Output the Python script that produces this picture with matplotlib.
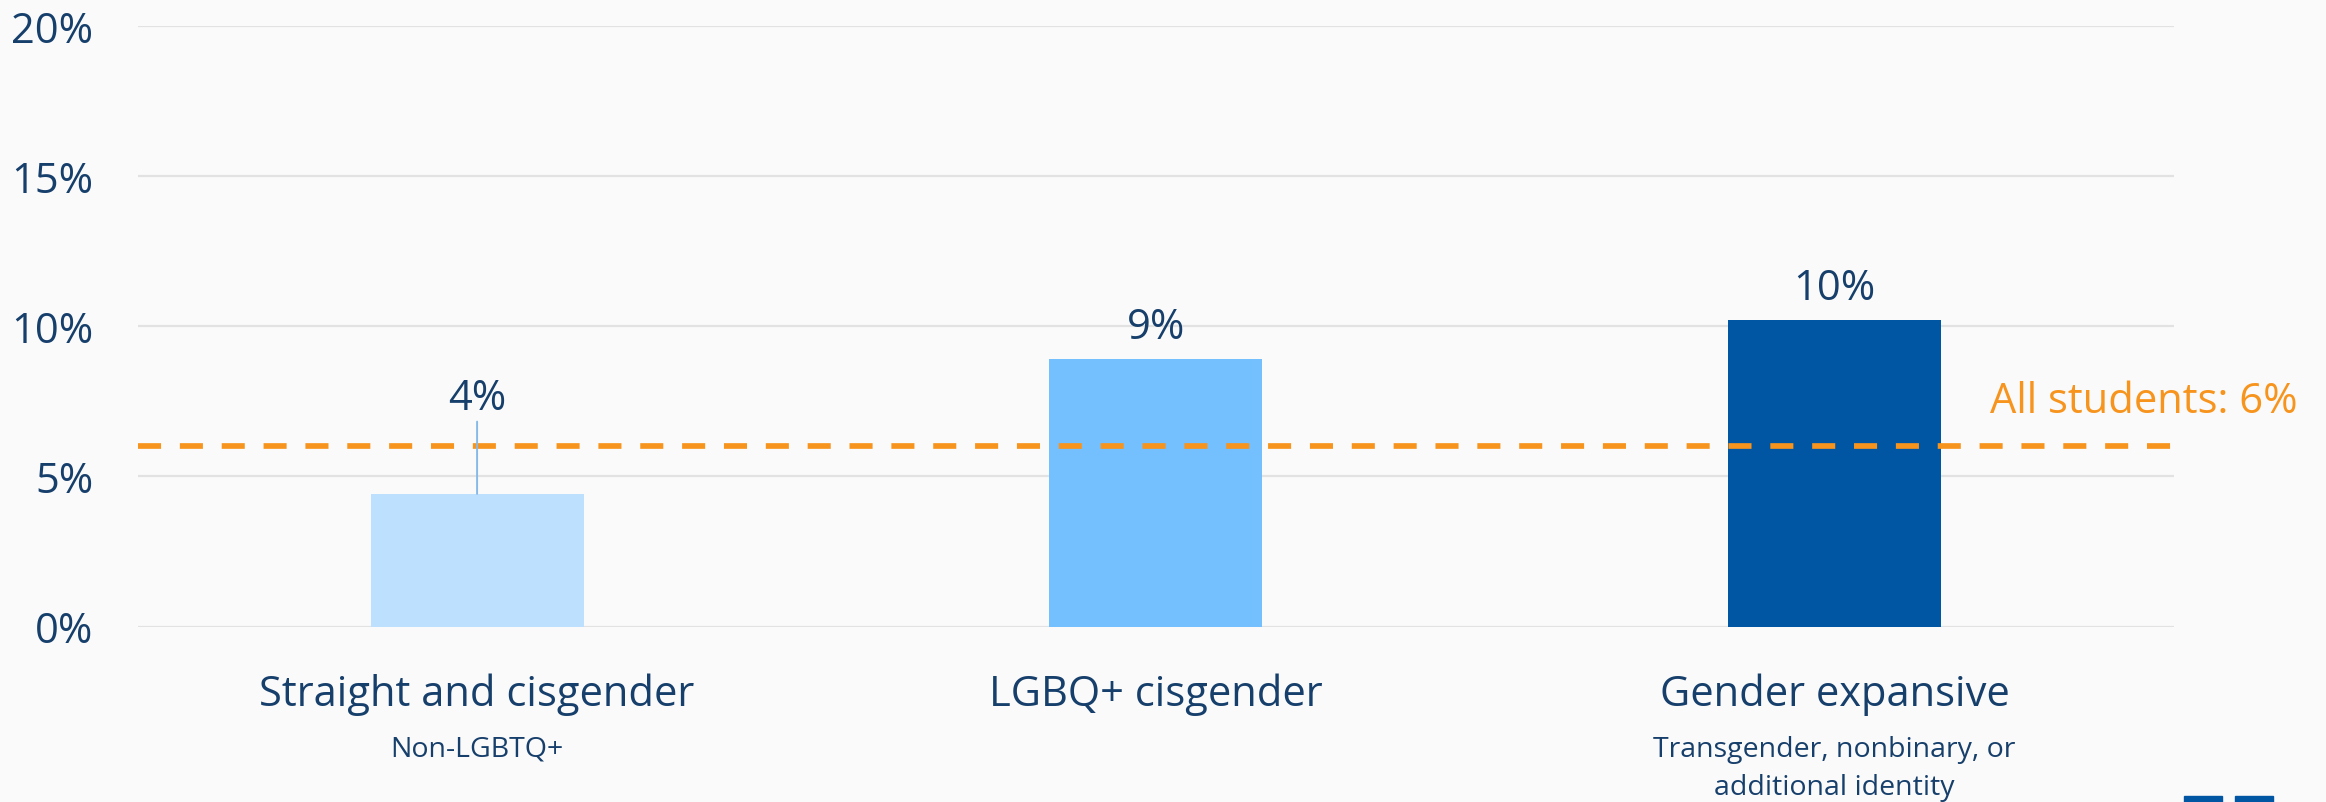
import matplotlib
matplotlib.use("Agg")
import matplotlib.pyplot as plt
from matplotlib.patches import Rectangle
from matplotlib.ticker import FuncFormatter

# ---- data ----
categories = ["Straight and cisgender", "LGBQ+ cisgender", "Gender expansive"]
subtitles = ["Non-LGBTQ+", "", "Transgender, nonbinary, or\nadditional identity"]
values = [4.42, 8.92, 10.22]
value_labels = ["4%", "9%", "10%"]
all_students = 6.0
all_students_label = "All students: 6%"
yticks = [0, 5, 10, 15, 20]

# ---- style ----
bar_colors = ["#bde0fe", "#74bffd", "#0056a2"]
navy = "#173f6b"
orange = "#f7941d"
grid_c = "#e2e2e2"
bg = "#fafafa"
plt.rcParams["font.family"] = ["Open Sans", "DejaVu Sans"]

W, H = 2326, 803
fig = plt.figure(figsize=(W / 100, H / 100), dpi=100, facecolor=bg)
ax = fig.add_axes([137.7 / W, (H - 627.5) / H, (2174 - 137.7) / W, (627.5 - 27.3) / H])
ax.set_facecolor(bg)

x = list(range(len(categories)))
ax.bar(x, values, width=0.314, color=bar_colors, zorder=2)
ax.set_xlim(-0.5, 2.5)
ax.set_ylim(0, 20)
ax.set_yticks(yticks)
ax.yaxis.set_major_formatter(FuncFormatter(lambda v, p: f"{v:.0f}%"))
ax.tick_params(axis="y", length=0, pad=32, labelsize=30, labelcolor=navy)
ax.set_xticks([])
for s in ax.spines.values():
    s.set_visible(False)
ax.yaxis.grid(True, color=grid_c, lw=1.6, zorder=0)
ax.set_axisbelow(True)

# average line
ax.axhline(all_students, color=orange, lw=4.1, dashes=(4.05, 3.3), zorder=3)
fig.text(2298 / W, (H - 413) / H, all_students_label, ha="right", va="baseline",
         fontsize=30, color=orange)

# value labels
for i, (v, lab) in enumerate(zip(values, value_labels)):
    if v < all_students:
        off = 61
        ax.annotate("", xy=(i, v), xytext=(i, v), textcoords="data",
                    arrowprops=dict(arrowstyle="-", color="#86b9e8", lw=1.4,
                                    shrinkA=0, shrinkB=0),
                    zorder=4)
        ax.annotate("", xy=(i, v), xytext=(0, 52), textcoords="offset points",
                    arrowprops=dict(arrowstyle="-", color="#86b9e8", lw=1.4,
                                    shrinkA=0, shrinkB=0),
                    zorder=4)
    else:
        off = 15
    ax.annotate(lab, xy=(i, v), xytext=(0, off), textcoords="offset points",
                ha="center", va="baseline", fontsize=30, color=navy, zorder=5)

# category labels
import matplotlib.transforms as mtrans
tr = mtrans.blended_transform_factory(ax.transData, fig.transFigure)
for i, (cat, sub) in enumerate(zip(categories, subtitles)):
    ax.text(i, (H - 706) / H, cat, transform=tr, ha="center", va="baseline",
            fontsize=30, color=navy)
    if sub:
        for k, line in enumerate(sub.split("\n")):
            ax.text(i, (H - 757 - 38 * k) / H, line, transform=tr, ha="center",
                    va="baseline", fontsize=20.5, color=navy)

# decorative logo fragment bottom-right
for x0 in (2184, 2235):
    fig.patches.append(Rectangle((x0 / W, 0), 38 / W, 6 / H, transform=fig.transFigure,
                                 color="#0056a2", zorder=5))

fig.savefig("out.png", dpi=100, facecolor=bg)
